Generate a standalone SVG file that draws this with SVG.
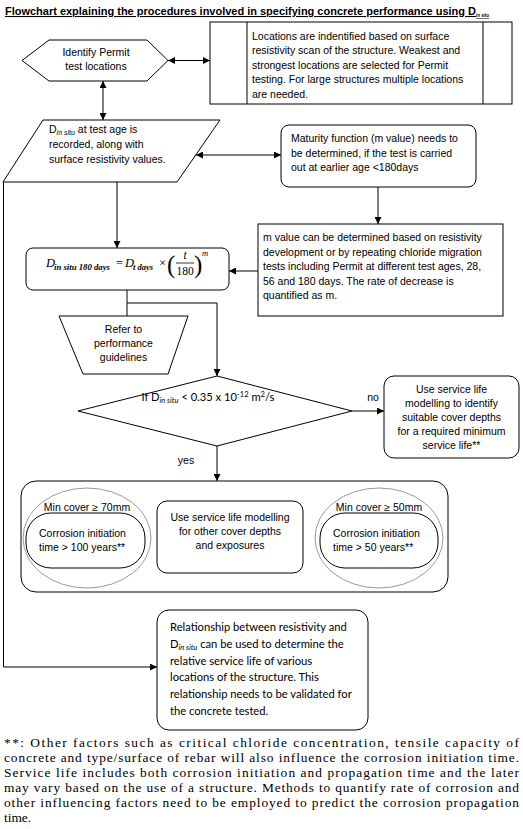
<svg xmlns="http://www.w3.org/2000/svg" width="523" height="829" viewBox="0 0 523 829">
<style>
.s{fill:#fff;stroke:#000;stroke-width:1}
.g{fill:none;stroke:#999;stroke-width:1}
.c{fill:none;stroke:#000;stroke-width:1}
.t{font-family:"Liberation Sans",Arial,sans-serif;font-size:10.5px;fill:#000}
.m{text-anchor:middle}
.k{font-family:Lato,"Liberation Sans",sans-serif;font-size:11.2px;fill:#000}
.f{font-family:"Liberation Serif","Times New Roman",serif;font-size:13.4px;fill:#000}
.e{font-family:"Liberation Serif","Times New Roman",serif;font-style:italic;fill:#000}
.n{font-family:"Liberation Serif","Times New Roman",serif;font-style:normal;fill:#000}
</style>
<defs>
<marker id="a" viewBox="0 0 10 10" refX="10" refY="5" markerWidth="7" markerHeight="7" markerUnits="userSpaceOnUse" orient="auto-start-reverse">
<path d="M0,0 L10,5 L0,10 z" fill="#000"/>
</marker>
</defs>
<rect width="523" height="829" fill="#fff"/>
<g id="title">
<text x="5" y="15" font-family="Liberation Sans,Arial,sans-serif" font-weight="bold" font-size="10.5" text-decoration="underline" textLength="471" lengthAdjust="spacingAndGlyphs">Flowchart explaining the procedures involved in specifying concrete performance using D</text>
<text x="476" y="17" font-family="Liberation Sans,Arial,sans-serif" font-weight="bold" font-style="italic" font-size="5.5" text-decoration="underline" textLength="13" lengthAdjust="spacingAndGlyphs">in situ</text>
</g>
<g id="connectors">
<line class="c" x1="168" y1="60.5" x2="210" y2="60.5" marker-start="url(#a)" marker-end="url(#a)"/>
<line class="c" x1="103" y1="81" x2="103" y2="120" marker-start="url(#a)" marker-end="url(#a)"/>
<line class="c" x1="196" y1="155" x2="281" y2="155" marker-start="url(#a)" marker-end="url(#a)"/>
<line class="c" x1="378" y1="187" x2="378" y2="224" marker-end="url(#a)"/>
<line class="c" x1="258" y1="271" x2="229" y2="271" marker-end="url(#a)"/>
<line class="c" x1="117" y1="182" x2="117" y2="248" marker-end="url(#a)"/>
<line class="c" x1="127" y1="290" x2="127" y2="316"/>
<polyline class="c" points="127,303 217,303 217,376" marker-end="url(#a)"/>
<line class="c" x1="352" y1="411" x2="384" y2="411" marker-end="url(#a)"/>
<line class="c" x1="217" y1="446" x2="217" y2="481" marker-end="url(#a)"/>
<polyline class="c" points="3.5,182 3.5,667 157,667" marker-end="url(#a)"/>
<text class="t m" x="373" y="401">no</text>
<text class="t m" x="186" y="464">yes</text>
</g>
<g id="identify">
<polygon class="s" points="22,60.5 49,40 147,40 168,60.5 147,81 49,81"/>
<text class="t m" x="96" y="56">Identify Permit</text>
<text class="t m" x="96" y="70">test locations</text>
</g>
<g id="locations">
<rect class="s" x="210" y="22" width="302" height="82"/>
<line class="c" x1="247" y1="22" x2="247" y2="104"/>
<line class="c" x1="483" y1="22" x2="483" y2="104"/>
<text class="t" x="252" y="39.5">Locations are indentified based on surface</text>
<text class="t" x="252" y="54">resistivity scan of the structure. Weakest and</text>
<text class="t" x="252" y="68.5">strongest locations are selected for Permit</text>
<text class="t" x="252" y="83">testing. For large structures multiple locations</text>
<text class="t" x="252" y="97.5">are needed.</text>
</g>
<g id="recorded">
<polygon class="s" points="43,120 220,120 177,182 3,182"/>
<text class="t" x="49" y="133">D<tspan font-size="7" font-style="italic" dy="2">in situ</tspan><tspan dy="-2"> at test age is</tspan></text>
<text class="t" x="49" y="148">recorded, along with</text>
<text class="t" x="49" y="162.5">surface resistivity values.</text>
</g>
<g id="maturity">
<rect class="s" x="281" y="125" width="195" height="62" rx="8"/>
<text class="t" x="291" y="142">Maturity function (m value) needs to</text>
<text class="t" x="291" y="157">be determined, if the test is carried</text>
<text class="t" x="291" y="171">out at earlier age &lt;180days</text>
</g>
<g id="mvalue">
<rect class="s" x="258" y="224" width="245" height="92"/>
<text class="t" x="263" y="241">m value can be determined based on resistivity</text>
<text class="t" x="263" y="255.5">development or by repeating chloride migration</text>
<text class="t" x="263" y="270">tests including Permit at different test ages, 28,</text>
<text class="t" x="263" y="284.5">56 and 180 days. The rate of decrease is</text>
<text class="t" x="263" y="299">quantified as m.</text>
</g>
<g id="formula">
<rect class="s" x="26" y="248" width="203" height="42" rx="7"/>
<text class="e" x="46" y="267" font-size="12.5">D</text>
<text class="e" x="54" y="270" font-size="8.2" font-weight="bold" textLength="56" lengthAdjust="spacingAndGlyphs">in situ 180 days</text>
<text class="n" x="116" y="267" font-size="12.5">=</text>
<text class="e" x="125" y="267" font-size="12.5">D</text>
<text class="e" x="133" y="270" font-size="8.2" font-weight="bold" textLength="20" lengthAdjust="spacingAndGlyphs">t days</text>
<text class="n" x="159" y="267" font-size="12.5">×</text>
<text class="n" x="167" y="273" font-size="25">(</text>
<text class="e" x="185" y="259" font-size="11.5" text-anchor="middle">t</text>
<line x1="176" y1="263" x2="194" y2="263" stroke="#000" stroke-width="0.8"/>
<text class="n" x="185" y="275" font-size="11.5" text-anchor="middle">180</text>
<text class="n" x="194" y="273" font-size="25">)</text>
<text class="e" x="202" y="256" font-size="8.5">m</text>
</g>
<g id="refer">
<polygon class="s" points="59,316 188,316 168,374 83,374"/>
<text class="t m" x="123.5" y="333">Refer to</text>
<text class="t m" x="123.5" y="347">performance</text>
<text class="t m" x="123.5" y="361">guidelines</text>
</g>
<g id="decision">
<polygon class="s" points="78,411 217,376 352,411 217,446"/>
<text class="k m" x="208" y="401">If D<tspan font-size="7.5" font-style="italic" dy="2">in situ</tspan><tspan dy="-2"> &lt; 0.35 x 10</tspan><tspan font-size="7.5" dy="-4">-12</tspan><tspan dy="4"> m</tspan><tspan font-size="7.5" dy="-4">2</tspan><tspan dy="4">/s</tspan></text>
</g>
<g id="servicelife">
<rect class="s" x="384" y="376" width="135" height="82" rx="10"/>
<text class="t m" x="451.5" y="393">Use service life</text>
<text class="t m" x="451.5" y="407">modelling to identify</text>
<text class="t m" x="451.5" y="421">suitable cover depths</text>
<text class="t m" x="451.5" y="435">for a required minimum</text>
<text class="t m" x="451.5" y="449">service life**</text>
</g>
<g id="outcomes">
<rect class="s" x="21" y="481" width="427" height="111" rx="15"/>
<ellipse class="g" cx="87" cy="538" rx="64" ry="50"/>
<ellipse class="g" cx="379" cy="538" rx="64" ry="50"/>
<rect class="s" x="26" y="513" width="119" height="55" rx="25"/>
<rect class="s" x="320" y="513" width="118" height="55" rx="25"/>
<rect class="s" x="157" y="501" width="146" height="72" rx="10"/>
<text class="t m" x="87" y="511">Min cover ≥ 70mm</text>
<text class="t" x="39" y="537">Corrosion initiation</text>
<text class="t" x="39" y="551">time &gt; 100 years**</text>
<text class="t m" x="230" y="521">Use service life modelling</text>
<text class="t m" x="230" y="535">for other cover depths</text>
<text class="t m" x="230" y="549">and exposures</text>
<text class="t m" x="379" y="511">Min cover ≥ 50mm</text>
<text class="t" x="333" y="537">Corrosion initiation</text>
<text class="t" x="333" y="551">time &gt; 50 years**</text>
</g>
<g id="relationship">
<rect class="s" x="157" y="610" width="211" height="120" rx="12"/>
<text class="k" x="170" y="631">Relationship between resistivity and</text>
<text class="k" x="170" y="648">D<tspan font-size="7.5" font-style="italic" dy="2">in situ</tspan><tspan dy="-2"> can be used to determine the</tspan></text>
<text class="k" x="170" y="664.5">relative service life of various</text>
<text class="k" x="170" y="681">locations of the structure. This</text>
<text class="k" x="170" y="698">relationship needs to be validated for</text>
<text class="k" x="170" y="714.5">the concrete tested.</text>
</g>
<g id="footnote">
<text class="f" x="4" y="747" textLength="515" lengthAdjust="spacing">**: Other factors such as critical chloride concentration, tensile capacity of</text>
<text class="f" x="4" y="762" textLength="515" lengthAdjust="spacing">concrete and type/surface of rebar will also influence the corrosion initiation time.</text>
<text class="f" x="4" y="777" textLength="515" lengthAdjust="spacing">Service life includes both corrosion initiation and propagation time and the later</text>
<text class="f" x="4" y="792" textLength="515" lengthAdjust="spacing">may vary based on the use of a structure. Methods to quantify rate of corrosion and</text>
<text class="f" x="4" y="807" textLength="515" lengthAdjust="spacing">other influencing factors need to be employed to predict the corrosion propagation</text>
<text class="f" x="4" y="822">time.</text>
</g>
</svg>
